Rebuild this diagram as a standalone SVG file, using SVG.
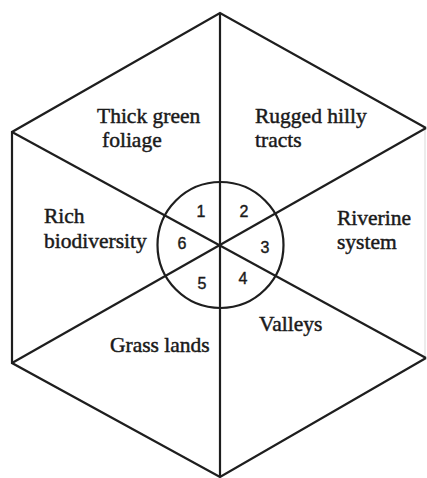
<svg xmlns="http://www.w3.org/2000/svg" width="427" height="478" viewBox="0 0 427 478">
<style>
.ln{stroke:#1e1e1e;stroke-width:2.2;fill:none;stroke-linejoin:miter}
.lbl{font-family:"Liberation Serif","Times New Roman",serif;font-size:21.5px;fill:#1a1a1a;stroke:#1a1a1a;stroke-width:0.45}
.num{font-family:"Liberation Sans",Arial,sans-serif;font-size:16px;fill:#1a1a1a;stroke:#1a1a1a;stroke-width:0.4;text-anchor:middle}
</style>
<rect width="427" height="478" fill="#fff"/>
<g id="connectors">
<polyline class="ln" points="426,128 220,13 12,132 12,363 220,477 426,358"/>
<line x1="425" y1="128" x2="425" y2="358" stroke="#e6e6e6" stroke-width="1.5"/>
<line class="ln" x1="220" y1="13" x2="220" y2="477"/>
<line class="ln" x1="12" y1="132" x2="426" y2="358"/>
<line class="ln" x1="426" y1="128" x2="12" y2="363"/>
</g>
<g id="center">
<circle class="ln" cx="220.5" cy="245" r="63"/>
<text class="num" x="201" y="217">1</text>
<text class="num" x="244" y="217">2</text>
<text class="num" x="265" y="253">3</text>
<text class="num" x="243" y="284">4</text>
<text class="num" x="202" y="289">5</text>
<text class="num" x="182" y="249">6</text>
</g>
<g id="node1"><text class="lbl" x="97" y="123">Thick green</text><text class="lbl" x="102" y="147">foliage</text></g>
<g id="node2"><text class="lbl" x="255" y="123">Rugged hilly</text><text class="lbl" x="255" y="147">tracts</text></g>
<g id="node3"><text class="lbl" x="337" y="225">Riverine</text><text class="lbl" x="337" y="249">system</text></g>
<g id="node4"><text class="lbl" x="259" y="331">Valleys</text></g>
<g id="node5"><text class="lbl" x="110" y="352">Grass lands</text></g>
<g id="node6"><text class="lbl" x="44" y="223">Rich</text><text class="lbl" x="44" y="248">biodiversity</text></g>
</svg>
